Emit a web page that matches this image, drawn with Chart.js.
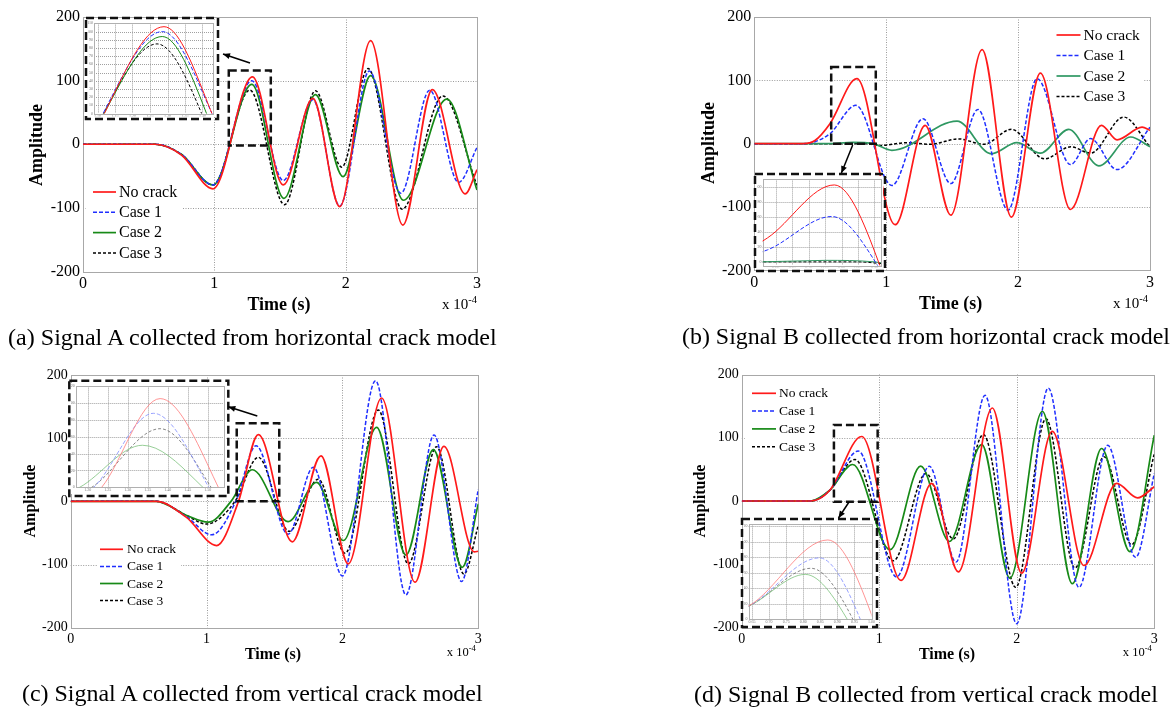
<!DOCTYPE html>
<html>
<head>
<meta charset="utf-8">
<script src="https://cdn.jsdelivr.net/npm/chart.js@4.4.0/dist/chart.umd.min.js"></script>
<style>
  html, body { margin: 0; padding: 0; background: #fff; }
  body { width: 1175px; height: 707px; position: relative; overflow: hidden;
         font-family: "Liberation Serif", "Times New Roman", serif; }
  canvas { position: absolute; }
  .t { position: absolute; white-space: nowrap; color: #000; line-height: 1; z-index: 6; }
  .b { font-weight: bold; }
  sup { font-size: 0.7em; vertical-align: 0.55em; line-height: 0; }
</style>
</head>
<body>
<script>
// time in units of 1e-4 s, amplitude
const seriesLabels = ['No crack', 'Case 1', 'Case 2', 'Case 3'];
const timeTicks = [0, 1, 2, 3];
const ampTicks = [-200, -100, 0, 100, 200];

// (a) Signal A, horizontal crack model
const aNoCrack = [[0,0],[0.55,0],[0.75,-17],[0.99,-70],[1.29,106],[1.525,-64],[1.75,72],[1.955,-98],[2.19,163],[2.435,-127],[2.66,86],[2.91,-78],[3.0,-40]];
const aCase1 = [[0,0],[0.55,0],[0.75,-16],[0.99,-64],[1.285,100],[1.525,-57],[1.75,70],[1.955,-97],[2.18,115],[2.42,-77],[2.64,85],[2.86,-60],[3.0,-5]];
const aCase2 = [[0,0],[0.55,0],[0.75,-16],[0.99,-64],[1.285,94],[1.53,-85],[1.77,78],[1.98,-51],[2.19,108],[2.44,-88],[2.77,71],[3.0,-72]];
const aCase3 = [[0,0],[0.55,0],[0.75,-16],[0.99,-64],[1.27,85],[1.535,-95],[1.77,84],[1.97,-36],[2.17,119],[2.43,-102],[2.74,76],[3.0,-65]];

// (b) Signal B, horizontal crack model
const bNoCrack = [[0,0],[0.37,0],[0.46,5],[0.575,32],[0.778,102.6],[1.068,-128],[1.296,29],[1.49,-113],[1.727,148.5],[1.949,-116],[2.169,111.5],[2.397,-104],[2.632,29],[2.75,6],[2.94,26],[3.0,21]];
const bCase1 = [[0,0],[0.37,0],[0.46,3],[0.575,16],[0.77,60.5],[1.043,-66],[1.279,39.5],[1.49,-63],[1.696,54],[1.924,-105],[2.144,102.6],[2.397,-33],[2.549,8],[2.75,-41],[3.0,26]];
const bCase2 = [[0,0],[0.55,0],[0.75,2],[0.9,0],[1.043,-10.5],[1.537,35.7],[1.797,-16],[1.99,1.5],[2.169,-15],[2.384,22.6],[2.612,-35],[2.853,10.5],[3.0,-5]];
const bCase3 = [[0,0],[0.85,0],[0.95,-3],[1.157,1.5],[1.334,-1],[1.549,7.5],[1.739,-1],[1.949,22.6],[2.2,-24],[2.4,-5],[2.55,-15],[2.8,42],[3.0,-5]];

// (c) Signal A, vertical crack model
const cNoCrack = [[0,0],[0.63,0],[0.85,-25],[1.074,-70],[1.235,0],[1.381,105.5],[1.631,-64],[1.842,72],[2.043,-99],[2.288,163.6],[2.534,-128],[2.747,87],[2.97,-80],[3.0,-79]];
const cCase1 = [[0,0],[0.63,0],[0.85,-24],[1.038,-53],[1.215,0],[1.364,88],[1.6,-52],[1.786,54],[2.0,-118],[2.244,191],[2.467,-148],[2.674,105],[2.877,-127],[3.0,19.5]];
const cCase2 = [[0,0],[0.63,0],[0.85,-22],[1.013,-33],[1.18,0],[1.337,50],[1.6,-32],[1.81,30],[2.006,-62],[2.252,117],[2.467,-85],[2.669,82],[2.882,-104.5],[3.0,-4]];
const cCase3 = [[0,0],[0.63,0],[0.85,-22],[1.0,-36],[1.21,0],[1.381,69.7],[1.607,-47.5],[1.822,35],[2.02,-82],[2.264,144.6],[2.485,-99],[2.693,86.5],[2.894,-115],[3.0,-38]];

// (d) Signal B, vertical crack model
const dNoCrack = [[0,0],[0.5,0],[0.64,17],[0.872,102],[1.158,-125.5],[1.381,27.8],[1.575,-112],[1.822,147],[2.035,-114],[2.258,110],[2.489,-102],[2.726,28],[2.879,5],[3.0,22.6]];
const dCase1 = [[0,0],[0.5,0],[0.64,17],[0.847,79],[1.126,-120],[1.364,55],[1.558,-96.6],[1.769,167],[1.999,-194],[2.229,178.5],[2.452,-136.5],[2.661,88],[2.864,-89],[3.0,43.6]];
const dCase2 = [[0,0],[0.5,0],[0.64,17],[0.806,57.7],[1.078,-77],[1.301,55],[1.51,-64],[1.745,89],[1.95,-122],[2.186,141.7],[2.404,-130.7],[2.617,83],[2.823,-80],[3.0,104]];
const dCase3 = [[0,0],[0.5,0],[0.64,17],[0.823,65.6],[1.102,-94.5],[1.34,43.6],[1.538,-60],[1.757,105],[1.992,-136.5],[2.212,130],[2.423,-106],[2.634,70],[2.835,-69],[3.0,75]];

const captions = [
  '(a) Signal A collected from horizontal crack model',
  '(b) Signal B collected from horizontal crack model',
  '(c) Signal A collected from vertical crack model',
  '(d) Signal B collected from vertical crack model'
];

Chart.defaults.font.family = '"Liberation Serif", "Times New Roman", serif';
Chart.defaults.color = '#000';

const RED = '#ff1a1a', BLUE = '#1f2eff', BLACK = '#000000';
const dashes = [[], [4, 2], [], [3, 2]];

// layout of each panel (page pixels); box = zoomed region in data units
const panels = [
  { series: [aNoCrack, aCase1, aCase2, aCase3], green: '#178a17',
    canvas: [0, 0, 500, 320], area: [83, 17, 477, 271.5], tick: 16,
    legend: { x: 93, y: 192, dy: 20.3, len: 23, gap: 3, size: 16, bg: [86, 180, 97, 84] },
    box: [1.11, 1.43, -2, 116],
    inset: { outer: [86, 18, 218, 119], inner: [94, 21, 213, 114], x: [1.09, 1.43, 0.05], y: [0, 110, 10], faded: false },
    arrow: [250, 63, 223, 54],
    amp: [36, 145, 18], time: [279, 304, 18], exp: [477, 304, 15], cap: [8, 337, 489] },
  { series: [bNoCrack, bCase1, bCase2, bCase3], green: '#2f9862',
    canvas: [660, 0, 515, 320], area: [754.3, 17, 1150, 270.3], tick: 16,
    legend: { x: 396.5, y: 35, dy: 20.5, len: 24, gap: 3, size: 15.5, bg: [393, 25, 91, 80] },
    box: [0.583, 0.921, 0, 121],
    inset: { outer: [755, 174, 885, 271], inner: [762.6, 177, 881, 267], x: [0.56, 0.92, 0.05], y: [-5, 110, 20], faded: false },
    arrow: [852.7, 145, 841.4, 173],
    amp: [708, 143, 18], time: [950.6, 303, 18], exp: [1148, 303, 15], cap: [682, 337, 488] },
  { series: [cNoCrack, cCase1, cCase2, cCase3], green: '#178a17',
    canvas: [0, 360, 500, 320], area: [70.7, 375, 478.3, 627.7], tick: 14,
    legend: { x: 100, y: 189.3, dy: 17.1, len: 23, gap: 4, size: 13.5, bg: [97, 178, 84, 72] },
    box: [1.222, 1.535, 0, 123.5],
    inset: { outer: [69.3, 380.7, 228.3, 496], inner: [76, 382.7, 224, 487.3], x: [1.17, 1.54, 0.05], y: [0, 120, 20], faded: true },
    arrow: [257.3, 416, 228.3, 406.7],
    amp: [30, 501, 16], time: [273, 654, 16], exp: [476, 652, 12.5], cap: [22, 694, 461] },
  { series: [dNoCrack, dCase1, dCase2, dCase3], green: '#178a17',
    canvas: [660, 360, 515, 320], area: [741.8, 374.5, 1154.3, 627.5], tick: 14,
    legend: { x: 92, y: 33.3, dy: 17.8, len: 24, gap: 3, size: 13.5, bg: [85, 22, 87, 75] },
    box: [0.67, 0.988, -1, 120],
    inset: { outer: [742, 519, 877, 627], inner: [748.6, 521.7, 875.5, 619.3], x: [0.64, 1.0, 0.05], y: [0, 122, 20], faded: true },
    arrow: [849, 502, 838.5, 518],
    amp: [700, 501, 16], time: [947, 654, 16], exp: [1152, 652, 12.5], cap: [694, 694, 464] }
];

function makeSets(series, colors, widths) {
  return series.map((pts, i) => ({
    label: seriesLabels[i],
    data: pts.map(p => ({ x: p[0], y: p[1] })),
    borderColor: colors[i],
    borderWidth: widths[i],
    borderDash: dashes[i],
    pointRadius: 0,
    fill: false,
    cubicInterpolationMode: 'monotone',
    clip: 0
  }));
}

const frameGrid = {
  id: 'frameGrid',
  beforeDraw(chart) {
    const c = chart.ctx;
    c.save(); c.fillStyle = '#fff'; c.fillRect(0, 0, chart.width, chart.height); c.restore();
  },
  beforeDatasetsDraw(chart, args, o) {
    const { ctx, chartArea: ar, scales: { x, y } } = chart;
    ctx.save();
    ctx.strokeStyle = o.gridColor; ctx.lineWidth = 1; ctx.setLineDash(o.gridDash);
    x.ticks.forEach(t => {
      if (t.value > x.min + 1e-9 && t.value < x.max - 1e-9) {
        const px = Math.round(x.getPixelForValue(t.value)) + 0.5;
        ctx.beginPath(); ctx.moveTo(px, ar.top); ctx.lineTo(px, ar.bottom); ctx.stroke();
      }
    });
    y.ticks.forEach(t => {
      if (t.value > y.min + 1e-9 && t.value < y.max - 1e-9) {
        const py = Math.round(y.getPixelForValue(t.value)) + 0.5;
        ctx.beginPath(); ctx.moveTo(ar.left, py); ctx.lineTo(ar.right, py); ctx.stroke();
      }
    });
    ctx.setLineDash([]);
    if (o.legendBg) { ctx.fillStyle = '#fff'; ctx.fillRect(...o.legendBg); }
    ctx.strokeStyle = o.frameColor; ctx.lineWidth = 1;
    ctx.strokeRect(Math.round(ar.left) + 0.5, Math.round(ar.top) + 0.5,
                   Math.round(ar.right) - Math.round(ar.left), Math.round(ar.bottom) - Math.round(ar.top));
    ctx.restore();
  },
  afterDatasetsDraw(chart, args, o) {
    const { ctx, scales: { x, y } } = chart;
    ctx.save();
    if (o.box) {
      const x1 = x.getPixelForValue(o.box[0]), x2 = x.getPixelForValue(o.box[1]);
      const y1 = y.getPixelForValue(o.box[3]), y2 = y.getPixelForValue(o.box[2]);
      ctx.strokeStyle = '#111'; ctx.lineWidth = 2.5; ctx.setLineDash([8, 4]);
      ctx.strokeRect(x1, y1, x2 - x1, y2 - y1);
    }
    const lg = o.legend;
    if (lg) {
      chart.data.datasets.forEach((ds, i) => {
        const yy = lg.y + i * lg.dy;
        ctx.strokeStyle = ds.borderColor; ctx.lineWidth = ds.borderWidth;
        ctx.setLineDash(ds.borderDash || []);
        ctx.beginPath(); ctx.moveTo(lg.x, yy); ctx.lineTo(lg.x + lg.len, yy); ctx.stroke();
        ctx.setLineDash([]);
        ctx.fillStyle = '#000';
        ctx.font = lg.size + 'px "Liberation Serif"';
        ctx.textBaseline = 'middle';
        ctx.fillText(ds.label, lg.x + lg.len + lg.gap, yy + 0.5);
      });
    }
    ctx.restore();
  }
};

function addCanvas(l, t, w, h, z) {
  const cv = document.createElement('canvas');
  cv.width = w; cv.height = h;
  cv.style.left = l + 'px'; cv.style.top = t + 'px';
  cv.style.width = w + 'px'; cv.style.height = h + 'px';
  cv.style.zIndex = z;
  document.body.appendChild(cv);
  return cv;
}

function buildMain(p) {
  const [cl, ct, cw, ch] = p.canvas;
  const [al, at, ar, ab] = p.area;
  const yW = 40, xH = 30;
  const cv = addCanvas(cl, ct, cw, ch, 1);
  const lg = Object.assign({}, p.legend);
  new Chart(cv, {
    type: 'line',
    data: { datasets: makeSets(p.series, [RED, BLUE, p.green, BLACK], [1.7, 1.5, 1.7, 1.5]) },
    options: {
      responsive: false, animation: false, events: [],
      layout: { padding: { left: al - cl - yW, top: at - ct, right: cl + cw - ar, bottom: ct + ch - ab - xH } },
      elements: { line: { capBezierPoints: false } },
      scales: {
        x: { type: 'linear', min: 0, max: 3,
             afterBuildTicks: s => { s.ticks = timeTicks.map(v => ({ value: v })); },
             afterFit: s => { s.height = xH; },
             grid: { display: false, drawTicks: false }, border: { display: false },
             ticks: { font: { size: p.tick }, color: '#000', padding: 3, maxRotation: 0, autoSkip: false } },
        y: { type: 'linear', min: -200, max: 200,
             afterBuildTicks: s => { s.ticks = ampTicks.map(v => ({ value: v })); },
             afterFit: s => { s.width = yW; },
             grid: { display: false, drawTicks: false }, border: { display: false },
             ticks: { font: { size: p.tick }, color: '#000', padding: 3, autoSkip: false } }
      },
      plugins: {
        legend: { display: false }, tooltip: { enabled: false },
        frameGrid: { gridColor: '#9a9a9a', gridDash: [1, 1.5], frameColor: '#a8a8a8',
                     legendBg: lg.bg, box: p.box, legend: lg }
      }
    },
    plugins: [frameGrid]
  });
}

function buildInset(p) {
  const s = p.inset;
  const [o1, o2, o3, o4] = s.outer;
  const [i1, i2, i3, i4] = s.inner;
  const cl = o1 + 2, ct = o2 + 2, cw = o3 - o1 - 4, ch = o4 - o2 - 4;
  const cv = addCanvas(cl, ct, cw, ch, 3);
  const yW = i1 - cl, xH = ct + ch - i4;
  const colors = s.faded ? ['#ff7a7a', '#7f8cff', p.green === '#178a17' ? '#7cc27c' : p.green, '#6a6a6a']
                         : [RED, BLUE, p.green, BLACK];
  const w = s.faded ? 0.8 : 1;
  const tickFont = { size: 4 };
  new Chart(cv, {
    type: 'line',
    data: { datasets: makeSets(p.series, colors, [w, w, w, w]) },
    options: {
      responsive: false, animation: false, events: [],
      layout: { padding: { left: 0, top: i2 - ct, right: cl + cw - i3, bottom: 0 } },
      elements: { line: { capBezierPoints: false } },
      scales: {
        x: { type: 'linear', min: s.x[0], max: s.x[1],
             afterFit: sc => { sc.height = xH; },
             grid: { display: false, drawTicks: false }, border: { display: false },
             ticks: { stepSize: s.x[2], includeBounds: false, font: tickFont, color: '#777', padding: 0, maxRotation: 0, autoSkip: false } },
        y: { type: 'linear', min: s.y[0], max: s.y[1],
             afterFit: sc => { sc.width = yW; },
             grid: { display: false, drawTicks: false }, border: { display: false },
             ticks: { stepSize: s.y[2], includeBounds: false, font: tickFont, color: '#777', padding: 1, autoSkip: false } }
      },
      plugins: {
        legend: { display: false }, tooltip: { enabled: false },
        frameGrid: { gridColor: '#a0a0a0', gridDash: [1, 1], frameColor: '#b0b0b0' }
      }
    },
    plugins: [frameGrid]
  });
}

function drawOverlay() {
  const cv = addCanvas(0, 0, 1175, 707, 5);
  cv.style.pointerEvents = 'none';
  const ctx = cv.getContext('2d');
  panels.forEach(p => {
    const [o1, o2, o3, o4] = p.inset.outer;
    ctx.save();
    ctx.strokeStyle = '#111'; ctx.lineWidth = 2.5; ctx.setLineDash([8, 4]);
    ctx.strokeRect(o1, o2, o3 - o1, o4 - o2);
    ctx.setLineDash([]);
    const [x1, y1, x2, y2] = p.arrow;
    ctx.strokeStyle = '#000'; ctx.fillStyle = '#000'; ctx.lineWidth = 1.5;
    ctx.beginPath(); ctx.moveTo(x1, y1); ctx.lineTo(x2, y2); ctx.stroke();
    const a = Math.atan2(y2 - y1, x2 - x1), L = 7, W = 3;
    ctx.beginPath();
    ctx.moveTo(x2, y2);
    ctx.lineTo(x2 - L * Math.cos(a) + W * Math.sin(a), y2 - L * Math.sin(a) - W * Math.cos(a));
    ctx.lineTo(x2 - L * Math.cos(a) - W * Math.sin(a), y2 - L * Math.sin(a) + W * Math.cos(a));
    ctx.closePath(); ctx.fill();
    ctx.restore();
  });
}

function addText(html, cls, css) {
  const d = document.createElement('div');
  d.className = 't ' + cls;
  d.innerHTML = html;
  Object.assign(d.style, css);
  document.body.appendChild(d);
  return d;
}

function addLabels(p, i) {
  addText('Amplitude', 'b', { left: p.amp[0] + 'px', top: p.amp[1] + 'px', fontSize: p.amp[2] + 'px',
    transform: 'translate(-50%,-50%) rotate(-90deg)' });
  addText('Time (s)', 'b', { left: p.time[0] + 'px', top: p.time[1] + 'px', fontSize: p.time[2] + 'px',
    transform: 'translate(-50%,-50%)' });
  addText('x 10<sup>-4</sup>', '', { left: p.exp[0] + 'px', top: p.exp[1] + 'px', fontSize: p.exp[2] + 'px',
    transform: 'translate(-100%,-50%)' });
  const c = addText(captions[i], '', { left: p.cap[0] + 'px', top: p.cap[1] + 'px', fontSize: '20px',
    transform: 'translate(0,-50%)' });
  const wNow = c.offsetWidth;
  c.style.fontSize = (20 * p.cap[2] / wNow).toFixed(2) + 'px';
}

panels.forEach(buildMain);
panels.forEach(buildInset);
drawOverlay();
panels.forEach(addLabels);
</script>
</body>
</html>
